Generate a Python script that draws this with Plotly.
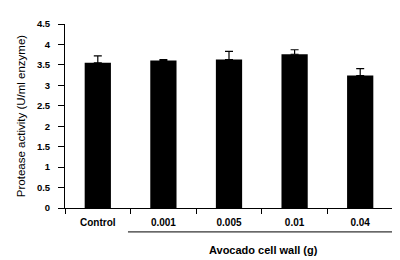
import plotly.graph_objects as go

categories = ["Control", "0.001", "0.005", "0.01", "0.04"]
values = [3.55, 3.61, 3.63, 3.76, 3.24]
errors = [0.17, 0.02, 0.20, 0.11, 0.17]
y_ticks = [0, 0.5, 1, 1.5, 2, 2.5, 3, 3.5, 4, 4.5]
y_tick_text = ["0", "0.5", "1", "1.5", "2", "2.5", "3", "3.5", "4", "4.5"]

FONT = "Liberation Sans, Arial, sans-serif"

fig = go.Figure(go.Bar(
    x=categories, y=values, width=0.4,
    marker=dict(color="black", line=dict(width=0)),
    error_y=dict(type="data", array=errors, arrayminus=[0]*len(errors), symmetric=False,
                 color="black", thickness=1.2, width=4),
))

fig.update_layout(
    width=400, height=260,
    margin=dict(l=57, r=15, t=16, b=60),
    plot_bgcolor="white", paper_bgcolor="white",
    showlegend=False,
    xaxis=dict(
        type="category", tickson="boundaries", ticks="outside", ticklen=5, tickcolor="black",
        showline=True, linecolor="black", linewidth=1, showgrid=False, automargin=False,
        tickfont=dict(family=FONT, size=10, color="black", weight="bold"),
        ticklabelstandoff=5,
        range=[-0.5, 4.5],
    ),
    yaxis=dict(
        range=[0, 4.5], tickvals=y_ticks, ticktext=y_tick_text,
        ticks="outside", ticklen=6, tickcolor="black", automargin=False,
        showline=True, linecolor="black", linewidth=1, showgrid=False, zeroline=False,
        tickfont=dict(family=FONT, size=9.5, color="black", weight="bold"),
        ticklabelstandoff=6,
        title=dict(text="Protease activity (U/ml enzyme)", font=dict(family=FONT, size=11.5, color="black"),
                   standoff=8),
    ),
    shapes=[dict(type="line", xref="paper", yref="paper", x0=0.192, x1=1.018, y0=-0.13, y1=-0.13,
                 line=dict(color="black", width=1))],
    annotations=[dict(text="Avocado cell wall (g)", xref="paper", yref="paper", x=0.604, y=-0.228,
                      showarrow=False, xanchor="center", yanchor="middle",
                      font=dict(family=FONT, size=11, color="black", weight="bold"))],
)

fig.write_html("out.html")
